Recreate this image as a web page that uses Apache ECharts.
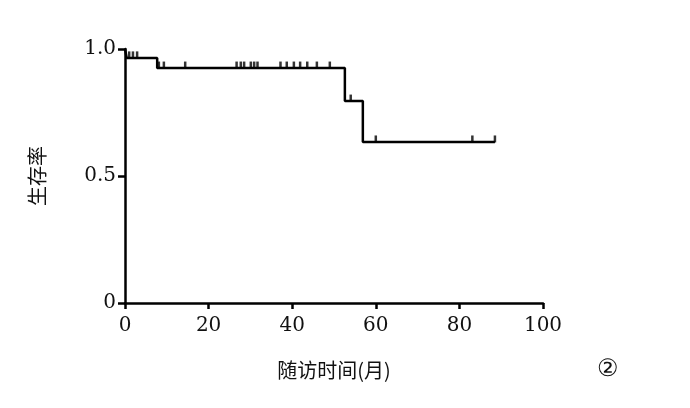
<!DOCTYPE html>
<html>
<head>
<meta charset="utf-8">
<script src="https://cdn.jsdelivr.net/npm/echarts@6/dist/echarts.min.js"></script>
<style>html,body{margin:0;padding:0;background:#fff}#c{width:690px;height:408px}</style>
</head>
<body>
<div id="c"></div>
<script>
// Kaplan-Meier step points [month, survival]
var stepTimes = [0, 0.4, 7.7, 52.6, 56.9, 88.5];
var stepSurv  = [1.0, 0.965, 0.925, 0.795, 0.634, 0.634];
// censored observations [month, survival]
var censorTimes = [1.0, 1.9, 2.9, 8.1, 9.3, 14.4, 26.7, 27.7, 28.5, 30.1, 30.9, 31.7, 37.2, 38.7, 40.4, 41.9, 43.6, 45.9, 49.0, 54.0, 60.0, 83.1, 88.5];
var censorSurv  = [0.965, 0.965, 0.965, 0.925, 0.925, 0.925, 0.925, 0.925, 0.925, 0.925, 0.925, 0.925, 0.925, 0.925, 0.925, 0.925, 0.925, 0.925, 0.925, 0.795, 0.634, 0.634, 0.634];
var xTicks = [0, 20, 40, 60, 80, 100];
var yTicks = [0, 0.5, 1.0];
var xTitle = '随访时间(月)';
var yTitle = '生存率';
var panelLabel = '②';

var chart = echarts.init(document.getElementById('c'));
var serif = 'DejaVu Serif';
chart.setOption({
  animation: false,
  backgroundColor: '#fff',
  grid: {left: 125, right: 147, top: 49, bottom: 105},
  xAxis: {
    type: 'value', min: 0, max: 100, interval: 20,
    name: xTitle, nameLocation: 'middle', nameGap: 57,
    nameTextStyle: {fontFamily: 'Noto Sans CJK SC', fontSize: 20, color: '#111'},
    axisLine: {show: true, onZero: false, lineStyle: {color: '#000', width: 2.5}},
    axisTick: {show: true, length: 6, lineStyle: {color: '#000', width: 2.5}},
    axisLabel: {margin: 13, fontFamily: serif, fontSize: 20, color: '#111',
      formatter: function (v) { return xTicks.indexOf(v) >= 0 ? String(v) : ''; }},
    splitLine: {show: false}
  },
  yAxis: {
    type: 'value', min: 0, max: 1, interval: 0.5,
    name: yTitle, nameLocation: 'middle', nameGap: 78, nameRotate: 90,
    nameTextStyle: {fontFamily: 'Noto Sans CJK SC', fontSize: 20, color: '#111'},
    axisLine: {show: true, lineStyle: {color: '#000', width: 2.5}},
    axisTick: {show: true, length: 7, lineStyle: {color: '#000', width: 2.5}},
    axisLabel: {margin: 9, fontFamily: serif, fontSize: 20, color: '#111',
      formatter: function (v) { return v === 0 ? '0' : v.toFixed(1); }},
    splitLine: {show: false}
  },
  graphic: [{
    type: 'text', left: 597, top: 358,
    style: {text: panelLabel, font: '24px "DejaVu Serif"', fill: '#111'}
  }],
  series: [{
    type: 'line', step: 'end', symbol: 'none',
    lineStyle: {color: '#000', width: 2.5},
    data: stepTimes.map(function (t, i) { return [t, stepSurv[i]]; })
  }, {
    type: 'scatter', symbol: 'rect', symbolSize: [2.5, 7], symbolOffset: [0, -3],
    itemStyle: {color: '#000'},
    data: censorTimes.map(function (t, i) { return [t, censorSurv[i]]; })
  }]
});
</script>
</body>
</html>
